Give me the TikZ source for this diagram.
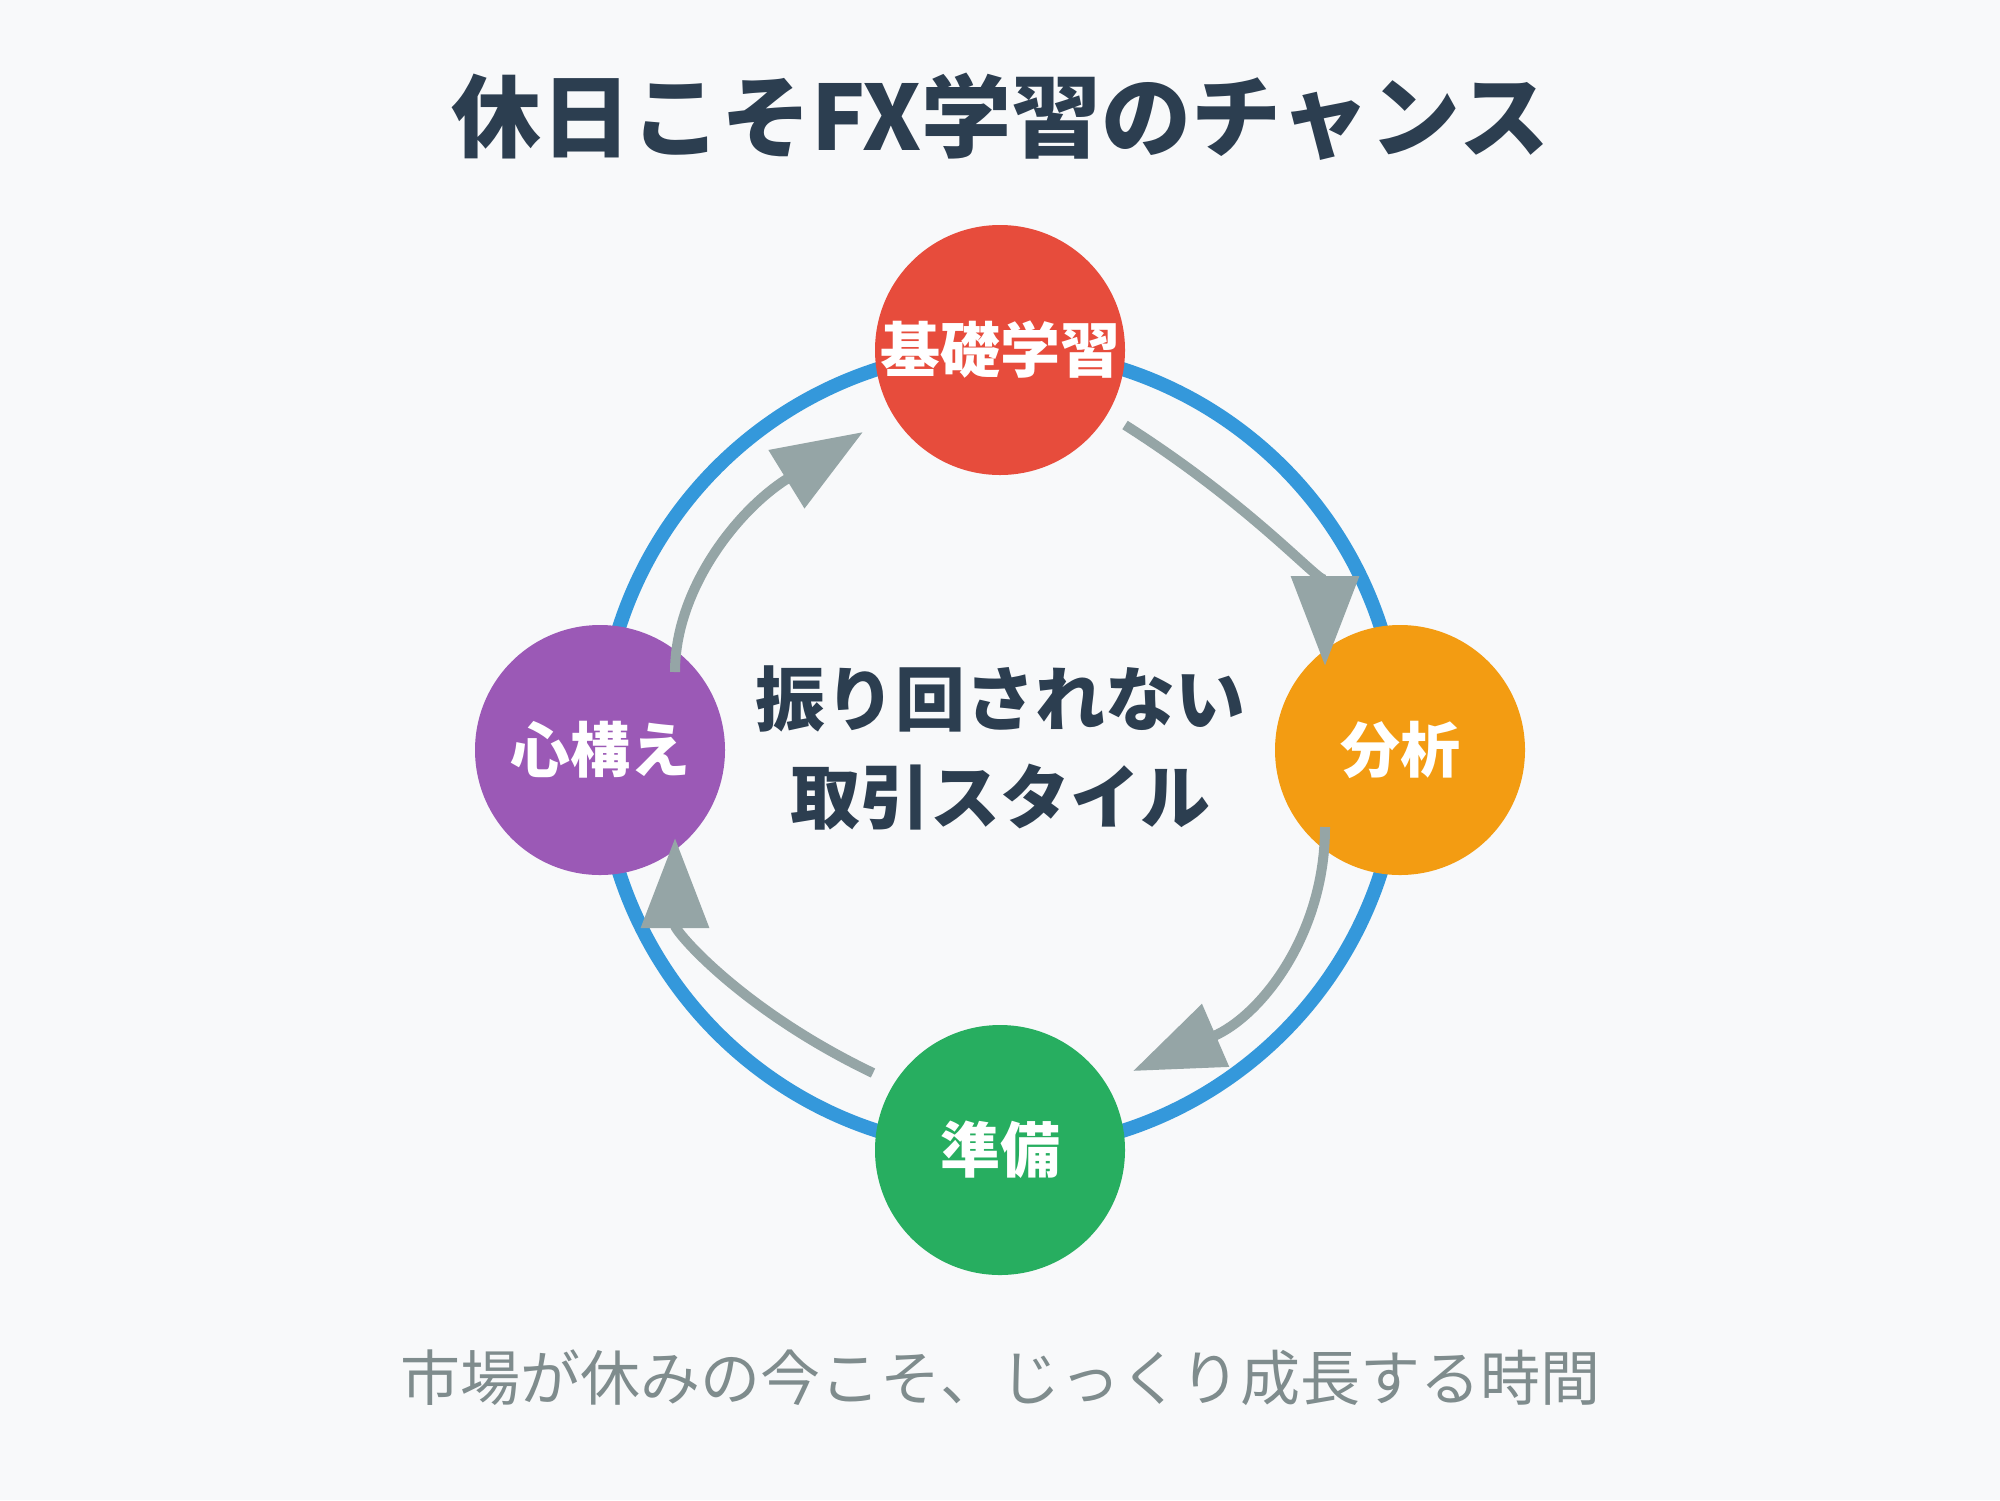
\documentclass[tikz,border=0pt]{standalone}
\usepackage{fontspec}
\newfontfamily\jp{Noto Sans CJK JP}
\usetikzlibrary{arrows.meta,calc}
\definecolor{bg}{HTML}{F8F9FA}
\definecolor{titlec}{HTML}{2C3E50}
\definecolor{ringc}{HTML}{3498DB}
\definecolor{redc}{HTML}{E74C3C}
\definecolor{orangec}{HTML}{F39C12}
\definecolor{greenc}{HTML}{27AE60}
\definecolor{purplec}{HTML}{9B59B6}
\definecolor{arrowc}{HTML}{95A5A6}
\definecolor{subc}{HTML}{7F8C8D}
\tikzset{
  stage/.style={circle, minimum size=125pt, inner sep=0pt, outer sep=0pt,
    text=white, font=\jp\bfseries\fontsize{30}{34}\selectfont},
  ring/.style={circle, draw=ringc, line width=7pt, minimum size=400pt, inner sep=0pt},
  flow/.style={draw=arrowc, line width=5pt,
    -{Triangle[length=45pt,width=33pt]}, arrowc},
  titletext/.style={text=titlec, font=\jp\bfseries\fontsize{45}{50}\selectfont},
  centertext/.style={text=titlec, font=\jp\bfseries\fontsize{35}{40}\selectfont},
  subtext/.style={text=subc, font=\jp\fontsize{30}{34}\selectfont}
}
\begin{document}
\begin{tikzpicture}[x=0.5pt,y=-0.5pt]
\useasboundingbox (0,0) rectangle (2000,1500);
\fill[bg] (0,0) rectangle (2000,1500);

\node[titletext] (title) at (1000,117) {休日こそFX学習のチャンス};

\node[ring] (cycle) at (1000,750) {};

\node[stage, fill=redc] (kiso) at (1000,350) {基礎学習};
\node[stage, fill=orangec] (bunseki) at (1400,750) {分析};
\node[stage, fill=greenc] (junbi) at (1000,1150) {準備};
\node[stage, fill=purplec] (kokoro) at (600,750) {心構え};

\node[centertext] (c1) at (1000,699) {振り回されない};
\node[centertext] (c2) at (1000,797) {取引スタイル};

\node[subtext] (sub) at (1000,1378) {市場が休みの今こそ、じっくり成長する時間};

% arrow 1: kiso -> bunseki
\coordinate (a1s) at ($(kiso)+(125,75)$);
\coordinate (a1c) at (1325,552);
\coordinate (a1e) at ($(bunseki)+(-75,-84)$);
\draw[flow] (a1s) .. controls ($(a1s)!0.6667!(a1c)$) and ($(a1e)!0.6667!(a1c)$) .. (a1e);

% arrow 2: bunseki -> junbi
\coordinate (a2s) at ($(bunseki)+(-75,77)$);
\coordinate (a2c) at (1325,988);
\coordinate (a2e) at ($(junbi)+(133,-79)$);
\draw[flow] (a2s) .. controls ($(a2s)!0.6667!(a2c)$) and ($(a2e)!0.6667!(a2c)$) .. (a2e);

% arrow 3: junbi -> kokoro
\coordinate (a3s) at ($(junbi)+(-127,-77)$);
\coordinate (a3c) at (675,978);
\coordinate (a3e) at ($(kokoro)+(75,88)$);
\draw[flow] (a3s) .. controls ($(a3s)!0.6667!(a3c)$) and ($(a3e)!0.6667!(a3c)$) .. (a3e);

% arrow 4: kokoro -> kiso
\coordinate (a4s) at ($(kokoro)+(75,-78)$);
\coordinate (a4c) at (675,548);
\coordinate (a4e) at ($(kiso)+(-137,82)$);
\draw[flow] (a4s) .. controls ($(a4s)!0.6667!(a4c)$) and ($(a4e)!0.6667!(a4c)$) .. (a4e);
\end{tikzpicture}
\end{document}
